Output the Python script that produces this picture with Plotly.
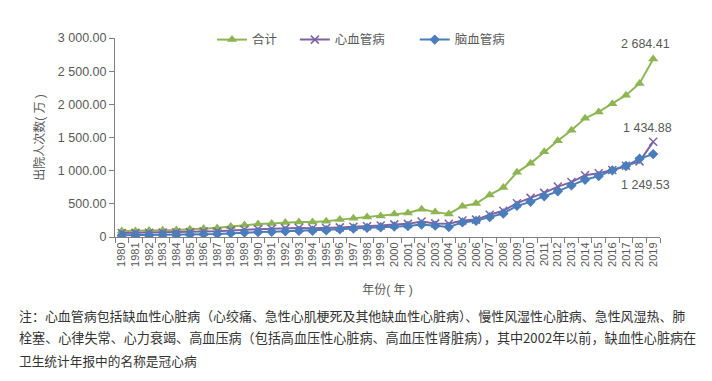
import plotly.graph_objects as go

years = list(range(1980, 2020))

total = [90, 92, 97, 102, 107, 117, 127, 135, 160, 180,
         195, 205, 218, 228, 228, 238, 262, 284, 300, 318,
         348, 362, 420, 375, 348, 465, 505, 634, 745, 975,
         1110, 1285, 1450, 1610, 1790, 1885, 2008, 2138, 2315, 2684.41]
cardio = [60, 62, 64, 67, 70, 76, 82, 87, 100, 110,
          118, 123, 130, 135, 132, 135, 145, 155, 162, 172,
          190, 198, 235, 205, 200, 248, 262, 335, 395, 510,
          590, 665, 760, 828, 930, 960, 1010, 1075, 1140, 1434.88]
cerebro = [28, 29, 31, 33, 35, 39, 42, 46, 58, 66,
           74, 80, 86, 92, 95, 102, 115, 128, 138, 147,
           158, 165, 188, 172, 150, 220, 243, 300, 355, 470,
           530, 615, 688, 778, 862, 918, 1005, 1070, 1180, 1249.53]

series_names = ["合计", "心血管病", "脑血管病"]
y_ticks = [0, 500, 1000, 1500, 2000, 2500, 3000]
x_tick_labels = [str(y) for y in years]

note_lines = [
    "注：心血管病包括缺血性心脏病（心绞痛、急性心肌梗死及其他缺血性心脏病）、慢性风湿性心脏病、急性风湿热、肺",
    "栓塞、心律失常、心力衰竭、高血压病（包括高血压性心脏病、高血压性肾脏病），其中2002年以前，缺血性心脏病在",
    "卫生统计年报中的名称是冠心病",
]


def fmt(v):
    if v == 0:
        return "0"
    s = f"{v:,.2f}"
    return s.replace(",", " ")


GREEN = "#8db553"
PURPLE = "#7e63a3"
BLUE = "#4a7dbb"
TXT = "#595959"
FONT = "Liberation Sans, Noto Sans CJK SC, sans-serif"

legend_ids = ["legend", "legend2", "legend3"]
legend_x = [0.178, 0.330, 0.550]

fig = go.Figure()
fig.add_trace(go.Scatter(
    x=years, y=total, name=series_names[0], mode="lines+markers",
    legend=legend_ids[0],
    line=dict(color=GREEN, width=2),
    marker=dict(symbol="triangle-up", size=9, color=GREEN)))
fig.add_trace(go.Scatter(
    x=years, y=cardio, name=series_names[1], mode="lines+markers",
    legend=legend_ids[1],
    line=dict(color=PURPLE, width=2),
    marker=dict(symbol="x-thin-open", size=8, color=PURPLE,
                line=dict(color=PURPLE, width=1.5))))
fig.add_trace(go.Scatter(
    x=years, y=cerebro, name=series_names[2], mode="lines+markers",
    legend=legend_ids[2],
    line=dict(color=BLUE, width=2),
    marker=dict(symbol="diamond", size=8, color=BLUE)))

# end-value labels
label_specs = [(total, 15, -8), (cardio, 14, -6), (cerebro, -31, -8)]
for vals, ys, xs in label_specs:
    fig.add_annotation(x=years[-1], y=vals[-1], text=fmt(vals[-1]),
                       showarrow=False, xshift=xs, yshift=ys,
                       xanchor="center", yanchor="middle",
                       font=dict(size=12.5, color=TXT, family=FONT))

# footnote
note_y = [-0.394, -0.505, -0.621]
note_sizes = [12.95, 13.1, 12.7]
for line, yy, sz in zip(note_lines, note_y, note_sizes):
    fig.add_annotation(xref="paper", yref="paper", x=-0.18, y=yy,
                       xanchor="left", yanchor="middle", text=line,
                       showarrow=False,
                       font=dict(size=sz, color="#333333",
                                 family="Noto Sans CJK SC, sans-serif"))

legend_common = dict(orientation="h", xanchor="left", y=0.99,
                     yanchor="middle", font=dict(size=12.5, color=TXT),
                     bgcolor="rgba(0,0,0,0)")

fig.update_layout(
    width=704, height=373,
    margin=dict(l=107, r=52, t=30, b=144, autoexpand=False),
    paper_bgcolor="white", plot_bgcolor="white",
    font=dict(family=FONT, color=TXT, size=12),
    showlegend=True,
    legend=dict(x=legend_x[0], **legend_common),
    legend2=dict(x=legend_x[1], **legend_common),
    legend3=dict(x=legend_x[2], **legend_common),
    xaxis=dict(type="linear", range=[1979.5, 2019.5], automargin=False,
               showgrid=False, showline=True, zeroline=False,
               linecolor="#7f7f7f", linewidth=1,
               tickmode="array", tickvals=years, ticktext=x_tick_labels,
               ticks="", tickangle=-90, tickfont=dict(size=11, color=TXT),
               minor=dict(ticks="outside", tickmode="linear",
                          tick0=1979.5, dtick=1, ticklen=5,
                          tickcolor="#7f7f7f", showgrid=False),
               title=dict(text="年份( 年 )", standoff=19,
                          font=dict(size=12, color=TXT))),
    yaxis=dict(range=[0, 3000], automargin=False, showgrid=False,
               showline=True, linecolor="#7f7f7f", linewidth=1,
               ticks="outside", ticklen=5, tickcolor="#7f7f7f",
               zeroline=False, tickmode="array",
               tickvals=y_ticks, ticktext=[fmt(v) for v in y_ticks],
               tickfont=dict(size=12.5, color=TXT),
               title=dict(text="出院人次数( 万 )", standoff=10,
                          font=dict(size=12, color=TXT))),
)

fig.write_html("out.html")
